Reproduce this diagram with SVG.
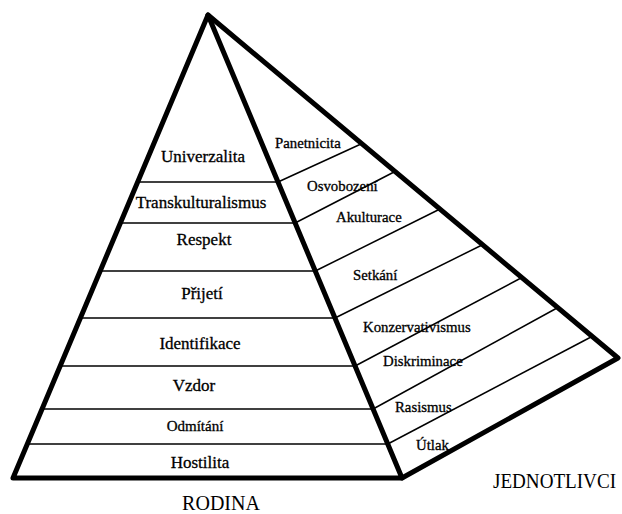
<svg xmlns="http://www.w3.org/2000/svg" width="622" height="514" viewBox="0 0 622 514">
<style>
.edge{fill:none;stroke:#000;stroke-width:5;stroke-linejoin:round;stroke-linecap:round}
.div{fill:none;stroke:#000;stroke-width:1.5}
.lt{font-size:17px;stroke:#000;stroke-width:0.3;text-anchor:middle}
.rt{font-size:14.8px;stroke:#000;stroke-width:0.3}
.big{font-size:20px}
</style>
<rect width="622" height="514" fill="#fff"/>
<g id="connectors">
<g id="left-dividers">
<line class="div" x1="137.7" y1="182" x2="278" y2="182"/>
<line class="div" x1="120.4" y1="223" x2="295.1" y2="223"/>
<line class="div" x1="100.2" y1="271" x2="315.3" y2="271"/>
<line class="div" x1="80.4" y1="318" x2="335" y2="318"/>
<line class="div" x1="60.2" y1="366" x2="355.1" y2="366"/>
<line class="div" x1="42.1" y1="409" x2="373.1" y2="409"/>
<line class="div" x1="27.3" y1="444" x2="387.8" y2="444"/>
</g>
<g id="right-dividers">
<line class="div" x1="278" y1="182" x2="361" y2="144"/>
<line class="div" x1="295.1" y1="223" x2="394" y2="172"/>
<line class="div" x1="315.3" y1="271" x2="440" y2="209"/>
<line class="div" x1="335" y1="318" x2="482" y2="245"/>
<line class="div" x1="355.1" y1="366" x2="521" y2="278"/>
<line class="div" x1="373.1" y1="409" x2="557" y2="308"/>
<line class="div" x1="387.8" y1="444" x2="591" y2="337"/>
</g>
</g>
<g id="pyramid-outline">
<polyline class="edge" points="13,478 208,15 402,478 13,478"/>
<polyline class="edge" points="208,15 618,358 402,478"/>
</g>
<g font-family="'Liberation Serif', 'Times New Roman', serif" fill="#000">
<g id="node-univerzalita"><text class="lt" x="203" y="162">Univerzalita</text></g>
<g id="node-transkulturalismus"><text class="lt" x="201" y="208">Transkulturalismus</text></g>
<g id="node-respekt"><text class="lt" x="204" y="245">Respekt</text></g>
<g id="node-prijeti"><text class="lt" x="202" y="299">Přijetí</text></g>
<g id="node-identifikace"><text class="lt" x="200" y="349">Identifikace</text></g>
<g id="node-vzdor"><text class="lt" x="194" y="391">Vzdor</text></g>
<g id="node-odmitani"><text class="lt" x="195" y="431" style="font-size:15px">Odmítání</text></g>
<g id="node-hostilita"><text class="lt" x="200" y="468">Hostilita</text></g>
<g id="node-panetnicita"><text class="rt" x="275" y="148">Panetnicita</text></g>
<g id="node-osvobozeni"><text class="rt" x="307" y="191">Osvobození</text></g>
<g id="node-akulturace"><text class="rt" x="336" y="222">Akulturace</text></g>
<g id="node-setkani"><text class="rt" x="353" y="280">Setkání</text></g>
<g id="node-konzervativismus"><text class="rt" x="363" y="332">Konzervativismus</text></g>
<g id="node-diskriminace"><text class="rt" x="383" y="366">Diskriminace</text></g>
<g id="node-rasismus"><text class="rt" x="395" y="412">Rasismus</text></g>
<g id="node-utlak"><text class="rt" x="416" y="450">Útlak</text></g>
<g id="label-rodina"><text class="big" x="221" y="510" text-anchor="middle">RODINA</text></g>
<g id="label-jednotlivci"><text class="big" x="493" y="488" textLength="123" lengthAdjust="spacingAndGlyphs">JEDNOTLIVCI</text></g>
</g>
</svg>
